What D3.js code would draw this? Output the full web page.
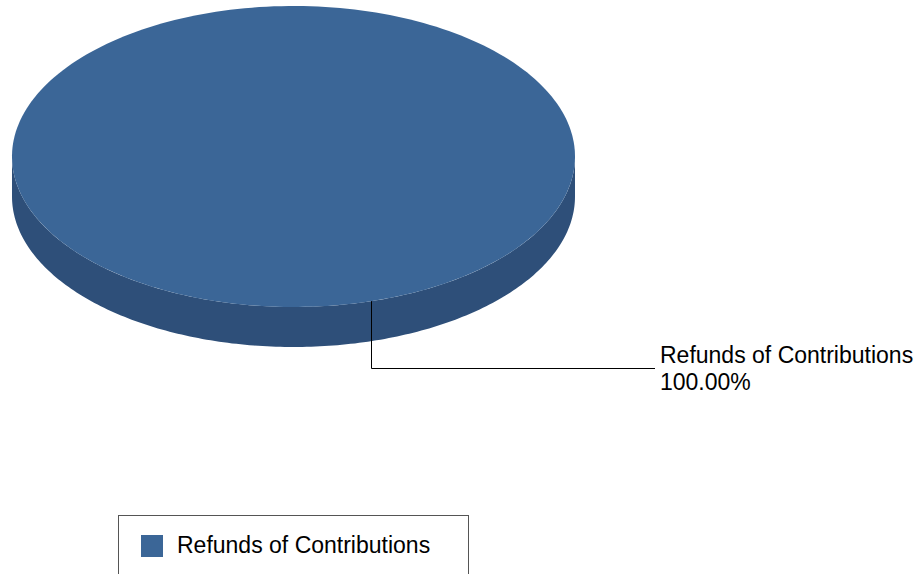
<!DOCTYPE html>
<html>
<head>
<meta charset="utf-8">
<script src="https://cdn.jsdelivr.net/npm/d3@7"></script>
<style>
html,body{margin:0;padding:0;background:#fff;}
svg{display:block;font-family:"Liberation Sans",Arial,sans-serif;}
</style>
</head>
<body>
<svg id="chart" width="924" height="574"></svg>
<script>
const categories = ["Refunds of Contributions"];
const values = [100];
const labels = ["100.00%"];
const topColors = ["#3b6697"];
const sideColors = ["#2e4f79"];

const W = 924, H = 574;
const cx = 293.5, cy = 156.5, rx = 281.5, ry = 150.5, depth = 40;
const startA = -0.279;

const svg = d3.select("#chart");

const pie = d3.pie().sort(null).value(d => d).startAngle(startA).endAngle(startA + 2 * Math.PI);
const arcs = pie(values);

const px = a => cx + rx * Math.sin(a);
const py = a => cy - ry * Math.cos(a);

function sample(a0, a1, n) {
  const s = d3.scaleLinear().domain([0, n]).range([a0, a1]);
  return d3.range(n + 1).map(i => s(i));
}

function topPath(d) {
  const pts = sample(d.startAngle, d.endAngle, 240).map(a => [px(a), py(a)]);
  const full = (d.endAngle - d.startAngle) >= 2 * Math.PI - 1e-6;
  if (full) return d3.line()(pts) + "Z";
  return "M" + cx + "," + cy + "L" + d3.line()(pts).slice(1) + "Z";
}

function sidePath(d) {
  const paths = [];
  for (let k = -1; k <= 1; k++) {
    const lo = Math.max(d.startAngle, Math.PI / 2 + 2 * Math.PI * k);
    const hi = Math.min(d.endAngle, 3 * Math.PI / 2 + 2 * Math.PI * k);
    if (hi > lo) {
      const as = sample(lo, hi, 200);
      const topPts = as.map(a => [px(a), py(a)]);
      const botPts = as.slice().reverse().map(a => [px(a), py(a) + depth]);
      paths.push(d3.line()(topPts.concat(botPts)) + "Z");
    }
  }
  return paths.join("");
}

const g = svg.append("g");
g.selectAll("path.side").data(arcs).join("path")
  .attr("class", "side")
  .attr("d", sidePath)
  .attr("fill", (d, i) => sideColors[i]);
g.selectAll("path.top").data(arcs).join("path")
  .attr("class", "top")
  .attr("d", topPath)
  .attr("fill", (d, i) => topColors[i]);

arcs.forEach((d, i) => {
  const mid = (d.startAngle + d.endAngle) / 2;
  const x0 = Math.round(px(mid)) + 0.5, y0 = py(mid);
  const yL = 368.5, xEnd = 655;
  svg.append("path")
    .attr("d", `M${x0},${y0}L${x0},${yL}L${xEnd},${yL}`)
    .attr("fill", "none").attr("stroke", "#000").attr("stroke-width", 1);
  const t = svg.append("text").attr("font-size", 23).attr("fill", "#000");
  t.append("tspan").attr("x", 660).attr("y", 363).text(categories[i]);
  t.append("tspan").attr("x", 660).attr("y", 390).text(labels[i]);
});

const lg = svg.append("g");
lg.append("rect").attr("x", 118.5).attr("y", 515.5).attr("width", 350).attr("height", 90)
  .attr("fill", "#fff").attr("stroke", "#555").attr("stroke-width", 1);
const items = lg.selectAll("g.item").data(categories).join("g").attr("class", "item")
  .attr("transform", (d, i) => `translate(141,${535 + i * 30})`);
items.append("rect").attr("width", 22).attr("height", 22).attr("fill", (d, i) => topColors[i]);
items.append("text").attr("x", 36).attr("y", 18).attr("font-size", 23).attr("fill", "#000").text(d => d);
</script>
</body>
</html>
